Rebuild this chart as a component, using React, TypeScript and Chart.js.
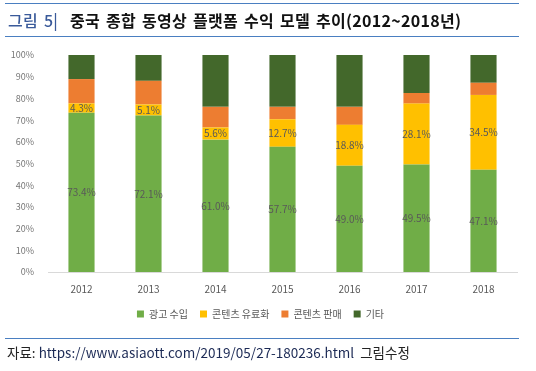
import React, { useEffect, useRef } from "react";
import { Chart, registerables } from "chart.js";

Chart.register(...registerables);

const years = ["2012", "2013", "2014", "2015", "2016", "2017", "2018"];
const adRevenue = [73.4, 72.1, 61.0, 57.7, 49.0, 49.5, 47.1];
const paidContent = [4.3, 5.1, 5.6, 12.7, 18.8, 28.1, 34.5];
const contentSales = [11.2, 10.9, 9.5, 5.7, 8.3, 4.9, 5.6];
const others = [11.1, 11.9, 23.9, 23.9, 23.9, 17.5, 12.8];
const seriesNames = ["광고 수입", "콘텐츠 유료화", "콘텐츠 판매", "기타"];
const yTicks = [0, 10, 20, 30, 40, 50, 60, 70, 80, 90, 100];

const FONT = "'Noto Sans CJK KR', 'Noto Sans', sans-serif";

const labelPlugin = {
  id: "segLabels",
  afterDatasetsDraw(chart: any) {
    const ctx = chart.ctx;
    ctx.save();
    ctx.font = `10px ${FONT}`;
    ctx.fillStyle = "#595959";
    ctx.textAlign = "center";
    ctx.textBaseline = "middle";
    [0, 1].forEach((di) => {
      const meta = chart.getDatasetMeta(di);
      const ds = chart.data.datasets[di];
      meta.data.forEach((bar: any, i: number) => {
        const v = ds.data[i] as number;
        const y = (bar.y + bar.base) / 2;
        ctx.fillText(v.toFixed(1) + "%", bar.x, y);
      });
    });
    ctx.restore();
  },
};

export default function App() {
  const ref = useRef<HTMLCanvasElement>(null);
  useEffect(() => {
    if (!ref.current) return;
    const chart = new Chart(ref.current, {
      type: "bar",
      data: {
        labels: years,
        datasets: [
          { label: seriesNames[0], data: adRevenue, backgroundColor: "#70ad47" },
          { label: seriesNames[1], data: paidContent, backgroundColor: "#ffc000" },
          { label: seriesNames[2], data: contentSales, backgroundColor: "#ed7d31" },
          { label: seriesNames[3], data: others, backgroundColor: "#43682b" },
        ],
      },
      options: {
        animation: false,
        responsive: false,
        maintainAspectRatio: false,
        datasets: { bar: { categoryPercentage: 1, barPercentage: 0.39 } },
        layout: { padding: { top: 55, left: 4, right: 19, bottom: 42 } },
        plugins: {
          tooltip: { enabled: false },
          legend: {
            position: "bottom",
            labels: {
              boxWidth: 7,
              boxHeight: 7,
              padding: 12,
              color: "#595959",
              font: { family: FONT, size: 10 },
            },
          },
        },
        scales: {
          x: {
            stacked: true,
            grid: { display: false },
            border: { display: true, color: "#d9d9d9" },
            ticks: { color: "#595959", font: { family: FONT, size: 10 }, padding: 3 },
            afterFit: (s: any) => { s.height = 25; },
          },
          y: {
            stacked: true,
            min: 0,
            max: 100,
            grid: { display: false },
            border: { display: false },
            afterBuildTicks: (s: any) => { s.ticks = yTicks.map((v) => ({ value: v })); },
            ticks: {
              color: "#767676",
              font: { family: FONT, size: 9 },
              padding: 6,
              callback: (v: any) => v + "%",
            },
            afterFit: (s: any) => { s.width = 44; },
          },
        },
      },
      plugins: [labelPlugin],
    });
    return () => chart.destroy();
  }, []);

  return (
    <div style={{ position: "fixed", left: 0, top: 0, width: 536, height: 371, background: "#fff", overflow: "hidden" }}>
      <canvas ref={ref} width={536} height={371} style={{ position: "absolute", left: 0, top: 0, width: 536, height: 371 }} />
      <div style={{ position: "absolute", left: 5, top: 3, width: 514, height: 0, borderTop: "1.5px solid #4a7fc1" }} />
      <div style={{ position: "absolute", left: 5, top: 36, width: 514, height: 0, borderTop: "1.5px solid #4a7fc1" }} />
      <div style={{ position: "absolute", left: 8, top: 9, whiteSpace: "nowrap", fontFamily: FONT, fontSize: 16, fontWeight: 700, lineHeight: "22px", color: "#111", letterSpacing: "0.3px", wordSpacing: "2px" }}>
        <span style={{ color: "#3a5a9a", fontWeight: 500 }}>그림 5|</span>{"\u00a0\u00a0"}중국 종합 동영상 플랫폼 수익 모델 추이(2012~2018년)
      </div>
      <div style={{ position: "absolute", left: 5, top: 338, width: 514, height: 0, borderTop: "1.5px solid #4a7fc1" }} />
      <div style={{ position: "absolute", left: 7, top: 343, whiteSpace: "nowrap", fontFamily: FONT, fontSize: 13.5, lineHeight: "18px", color: "#222" }}>
        자료: <span style={{ color: "#1c2a55" }}>https://www.asiaott.com/2019/05/27-180236.html</span>&nbsp; 그림수정
      </div>
    </div>
  );
}
